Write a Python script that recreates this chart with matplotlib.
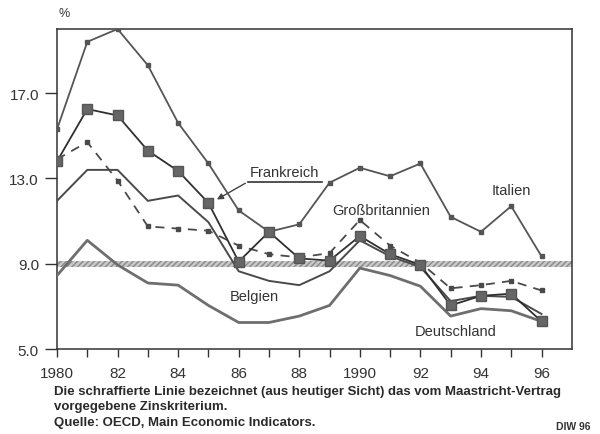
import numpy as np
import matplotlib.pyplot as plt
from matplotlib.patches import FancyArrowPatch

plt.rcParams['font.family'] = ['Liberation Sans', 'DejaVu Sans']

years = np.arange(1980, 1997)

# Langfristige Zinssätze in %
italien = [15.3, 19.4, 20.0, 18.3, 15.6, 13.7, 11.5, 10.5, 10.85, 12.8, 13.5,
           13.1, 13.7, 11.2, 10.5, 11.7, 9.35]
frankreich = [13.8, 16.25, 15.95, 14.3, 13.35, 11.85, 9.1, 10.5, 9.25, 9.15, 10.3,
              9.45, 8.95, 7.05, 7.5, 7.6, 6.3]
grossbritannien = [13.9, 14.7, 12.9, 10.75, 10.65, 10.55, 9.85, 9.45, 9.3, 9.5, 11.05,
                   9.85, 9.05, 7.85, 8.0, 8.2, 7.75]
belgien = [11.95, 13.4, 13.4, 11.95, 12.2, 10.95, 8.65, 8.2, 8.0, 8.65, 10.1,
           9.35, 8.85, 7.25, 7.5, 7.45, 6.65]
deutschland = [8.45, 10.1, 8.95, 8.1, 8.0, 7.05, 6.25, 6.25, 6.55, 7.05, 8.8,
               8.45, 7.95, 6.55, 6.9, 6.8, 6.3]

kriterium = 9.0
yticks = [5.0, 9.0, 13.0, 17.0]
xtick_years = [1980, 1982, 1984, 1986, 1988, 1990, 1992, 1994, 1996]
xtick_labels = ['1980', '82', '84', '86', '88', '1990', '92', '94', '96']

fig = plt.figure(figsize=(6, 4.35), dpi=100)
ax = fig.add_axes([0.095, 0.195, 0.858, 0.736])

dark = '#4a4a4a'
# Maastricht-Kriterium (schraffiert)
ax.axhspan(kriterium - 0.14, kriterium + 0.14, facecolor='#c8c8c8',
           edgecolor='#8a8a8a', hatch='//////', lw=0, zorder=1)

ax.plot(years, italien, color='#555555', lw=1.3, marker='s', ms=3, zorder=3)
ax.plot(years, grossbritannien, color=dark, lw=1.3, ls=(0, (5, 4)),
        marker='s', ms=3, zorder=3)
ax.plot(years, belgien, color=dark, lw=1.4, zorder=3)
ax.plot(years, deutschland, color='#6e6e6e', lw=2.0, zorder=3)
ax.plot(years, frankreich, color='#303030', lw=1.3, marker='s', ms=6.5,
        markerfacecolor='#666666', markeredgecolor='#555555', zorder=4)

ax.set_xlim(1980, 1997)
ax.set_ylim(5, 20)
ax.set_yticks(yticks)
ax.set_yticklabels([f'{v:.1f}' for v in yticks])
ax.set_xticks(years, minor=True)
ax.set_xticks(xtick_years)
ax.set_xticklabels(xtick_labels)
ax.tick_params(axis='both', which='both', direction='out', colors='#333333',
               labelsize=11, width=1)
ax.tick_params(axis='x', which='major', length=6, pad=6)
ax.tick_params(axis='x', which='minor', length=6)
ax.tick_params(axis='y', length=9, pad=4)
for s in ax.spines.values():
    s.set_color('#333333')
    s.set_linewidth(1.1)

lab = dict(fontsize=10.5, color='#333333')
ax.text(1987.5, 13.3, 'Frankreich', ha='center', va='center', **lab)
ax.plot([1986.3, 1988.75], [12.84, 12.84], color='#333333', lw=1.2)
ax.add_patch(FancyArrowPatch((1986.3, 12.84), (1985.2, 11.95),
                             arrowstyle='-|>', mutation_scale=9,
                             color='#444444', lw=1))
ax.text(1990.7, 11.5, 'Großbritannien', ha='center', va='center', **lab)
ax.text(1995.0, 12.47, 'Italien', ha='center', va='center', **lab)
ax.text(1986.5, 7.5, 'Belgien', ha='center', va='center', **lab)
ax.text(1993.15, 5.85, 'Deutschland', ha='center', va='center', **lab)

fig.text(0.097, 0.968, '%', fontsize=9, color='#333333', va='center')
cap = dict(fontsize=9.5, fontweight='bold', color='#2a2a2a', ha='left',
           va='center')
fig.text(0.09, 0.098, 'Die schraffierte Linie bezeichnet (aus heutiger Sicht) '
         'das vom Maastricht-Vertrag', **cap)
fig.text(0.09, 0.065, 'vorgegebene Zinskriterium.', **cap)
fig.text(0.09, 0.027, 'Quelle: OECD, Main Economic Indicators.', **cap)
fig.text(0.985, 0.018, 'DIW 96', fontsize=7.5, fontweight='bold',
         color='#333333', ha='right', va='center')

fig.savefig('out.png', dpi=100)
